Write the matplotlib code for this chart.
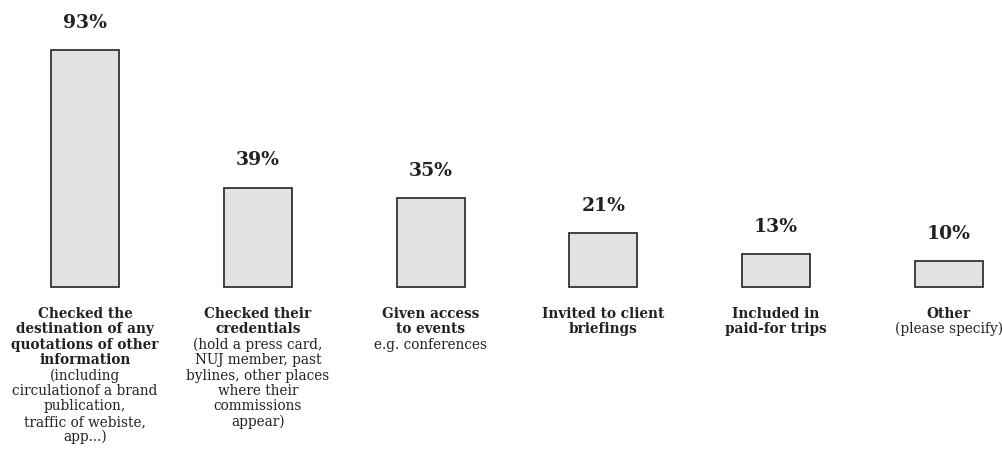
import matplotlib
matplotlib.use('agg')
import matplotlib.pyplot as plt

# survey answers (share of respondents, %)
values = [93, 39, 35, 21, 13, 10]
titles = [
    'Checked the\ndestination of any\nquotations of other\ninformation',
    'Checked their\ncredentials',
    'Given access\nto events',
    'Invited to client\nbriefings',
    'Included in\npaid-for trips',
    'Other',
]
notes = [
    '(including\ncirculationof a brand\npublication,\ntraffic of webiste,\napp...)',
    '(hold a press card,\nNUJ member, past\nbylines, other places\nwhere their\ncommissions\nappear)',
    'e.g. conferences',
    '',
    '',
    '(please specify)',
]

plt.rcParams['font.family'] = ['DejaVu Serif']
text_col = '#222222'

fig = plt.figure(figsize=(10.03, 4.49), dpi=100)
ax = fig.add_axes([0, 0, 1, 1])
ax.axis('off')

x = list(range(len(values)))
ax.bar(x, values, width=0.394, color='#e1e2e4', edgecolor='#333333', linewidth=1.3)
ax.set_xlim(-0.492, 5.313)
ax.set_ylim(-63.5, 112.5)

first_base = 22.3   # points below bar bottom to first baseline
line_pt = 11.1
for i, v in enumerate(values):
    ax.annotate(f'{v}%', xy=(i, v), xytext=(0, 19.5), textcoords='offset points',
                ha='center', va='center', fontsize=13.5, fontweight='bold', color=text_col)
    lines = [(t, 'bold') for t in titles[i].split('\n')]
    if notes[i]:
        lines += [(t, 'normal') for t in notes[i].split('\n')]
    for k, (txt, wt) in enumerate(lines):
        ax.annotate(txt, xy=(i, 0), xytext=(0, -first_base - k * line_pt),
                    textcoords='offset points', ha='center', va='baseline',
                    fontsize=9.8, fontweight=wt, color=text_col)

plt.savefig('out.png', dpi=100)
